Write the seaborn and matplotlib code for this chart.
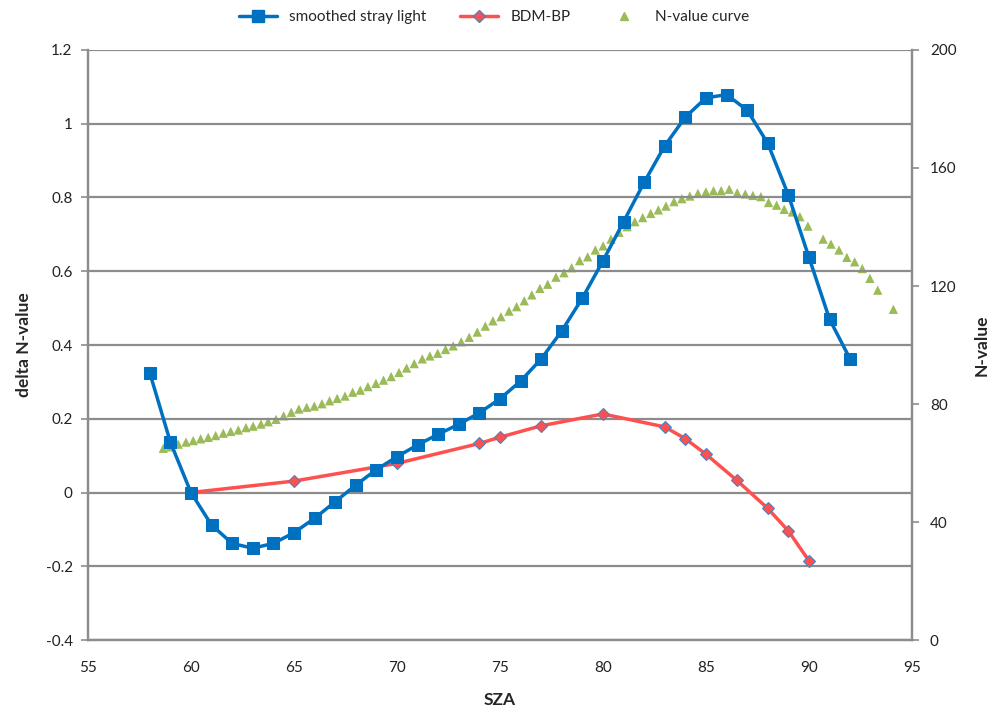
import numpy as np
import pandas as pd
import seaborn as sns
import matplotlib
matplotlib.use("Agg")
import matplotlib.pyplot as plt
from matplotlib.lines import Line2D

# smoothed stray light (left axis)
sza_stray = [58, 59, 60, 61, 62, 63, 64, 65, 66, 67, 68, 69, 70, 71, 72, 73, 74, 75,
             76, 77, 78, 79, 80, 81, 82, 83, 84, 85, 86, 87, 88, 89, 90, 91, 92]
stray = [0.325, 0.137, 0.0, -0.088, -0.138, -0.151, -0.138, -0.109, -0.07, -0.025,
         0.02, 0.062, 0.097, 0.129, 0.158, 0.185, 0.216, 0.254, 0.302, 0.362, 0.438,
         0.527, 0.628, 0.734, 0.841, 0.94, 1.018, 1.07, 1.079, 1.037, 0.947, 0.807,
         0.638, 0.47, 0.362]

# BDM-BP (left axis)
sza_bdm = [60, 65, 70, 74, 75, 77, 80, 83, 84, 85, 86.5, 88, 89, 90]
bdm = [0.0, 0.031, 0.079, 0.133, 0.15, 0.181, 0.213, 0.178, 0.146, 0.104, 0.033,
       -0.043, -0.104, -0.185]

# N-value curve (right axis)
sza_nval = [58.66, 59.01, 59.38, 59.76, 60.11, 60.47, 60.84, 61.2, 61.57, 61.93, 62.3,
            62.67, 63.02, 63.4, 63.75, 64.13, 64.5, 64.87, 65.24, 65.62, 65.99, 66.36,
            66.73, 67.1, 67.48, 67.85, 68.22, 68.59, 68.98, 69.35, 69.72, 70.1, 70.47,
            70.84, 71.23, 71.6, 71.98, 72.36, 72.73, 73.12, 73.51, 73.9, 74.29, 74.66,
            75.05, 75.44, 75.81, 76.18, 76.55, 76.94, 77.32, 77.72, 78.11, 78.48, 78.87,
            79.26, 79.63, 80.01, 80.39, 80.78, 81.17, 81.55, 81.93, 82.32, 82.69, 83.06,
            83.45, 83.83, 84.22, 84.61, 85.0, 85.37, 85.74, 86.13, 86.52, 86.91, 87.28,
            87.67, 88.04, 88.43, 88.8, 89.19, 89.56, 89.95, 90.69, 91.07, 91.46, 91.84,
            92.22, 92.59, 92.96, 93.34, 94.1]
nval = [65.0, 65.5, 66.4, 67.1, 67.6, 68.2, 68.7, 69.3, 70.1, 70.7, 71.2, 72.0, 72.5,
        73.2, 74.0, 74.8, 76.0, 77.2, 78.3, 78.9, 79.3, 80.1, 81.1, 81.9, 82.7, 84.0,
        84.7, 85.9, 87.0, 88.1, 89.3, 90.7, 92.2, 93.7, 95.3, 96.3, 97.2, 98.5, 99.7,
        101.1, 102.6, 104.4, 106.4, 108.2, 109.6, 111.5, 113.0, 115.0, 117.0, 119.2,
        120.6, 123.0, 124.5, 126.2, 128.6, 129.9, 132.2, 133.6, 135.9, 138.2, 140.1,
        141.8, 143.2, 144.6, 145.8, 147.1, 148.6, 149.6, 150.5, 151.4, 151.9, 152.3,
        152.3, 152.8, 151.6, 151.2, 150.7, 150.3, 148.3, 147.4, 146.0, 145.1, 143.5,
        140.3, 135.9, 134.2, 132.2, 129.7, 128.2, 125.9, 122.6, 118.6, 112.1]

sns.set_style("white")
plt.rcParams["font.family"] = ["Lato", "DejaVu Sans"]

blue = "#0070C0"
red = "#FF5050"
green = "#9BBB59"
grid_c = "#8C8C8C"

fig = plt.figure(figsize=(9.88, 7.11), dpi=100)
ax = fig.add_axes([0.089, 0.0998, 0.834, 0.8299])
ax2 = ax.twinx()

df_stray = pd.DataFrame({"SZA": sza_stray, "val": stray})
df_bdm = pd.DataFrame({"SZA": sza_bdm, "val": bdm})
df_nval = pd.DataFrame({"SZA": sza_nval, "val": nval})

sns.lineplot(data=df_stray, x="SZA", y="val", ax=ax, color=blue, linewidth=2.5,
             marker="s", markersize=9, markeredgecolor=blue, zorder=4)
sns.lineplot(data=df_bdm, x="SZA", y="val", ax=ax, color=red, linewidth=2.5,
             marker="D", markersize=6.5, markerfacecolor=red,
             markeredgecolor="#4F81BD", markeredgewidth=0.8, zorder=3)
sns.scatterplot(data=df_nval, x="SZA", y="val", ax=ax2, color=green, marker="^",
                s=45, edgecolor="none", zorder=2)

ax.set_zorder(ax2.get_zorder() + 1)
ax.patch.set_visible(False)

ax.set_xlim(55, 95)
ax.set_ylim(-0.4, 1.2)
ax2.set_ylim(0, 200)
ax.set_xticks(np.arange(55, 96, 5))
ax.set_yticks(np.arange(-0.4, 1.21, 0.2))
ax.set_yticklabels(["-0.4", "-0.2", "0", "0.2", "0.4", "0.6", "0.8", "1", "1.2"])
ax2.set_yticks(np.arange(0, 201, 40))

ax.grid(axis="y", color=grid_c, linewidth=1.6)
ax.grid(axis="x", visible=False)
ax2.grid(False)

for a in (ax, ax2):
    a.spines["top"].set_visible(False)
    for side in ("left", "right", "bottom"):
        a.spines[side].set_color(grid_c)
        a.spines[side].set_linewidth(1.6)
ax.tick_params(axis="both", direction="out", length=5, width=1.2, color=grid_c,
               labelsize=11, pad=6, labelcolor="#222222")
ax2.tick_params(axis="y", direction="out", length=5, width=1.2, color=grid_c,
                labelsize=11, pad=8, labelcolor="#222222")
ax.tick_params(axis="x", pad=10)

ax.set_xlabel("SZA", fontsize=12.5, fontweight="bold", labelpad=12)
ax.set_ylabel("delta N-value", fontsize=12.5, fontweight="bold", labelpad=10)
ax2.set_ylabel("N-value", fontsize=12.5, fontweight="bold", rotation=90, labelpad=12)

for a in (ax, ax2):
    if a.get_legend() is not None:
        a.get_legend().remove()

handles = [
    Line2D([], [], color=blue, linewidth=2.5, marker="s", markersize=8),
    Line2D([], [], color=red, linewidth=2.5, marker="D", markersize=6,
           markerfacecolor=red, markeredgecolor="#4F81BD"),
    Line2D([], [], color=green, linestyle="none", marker="^", markersize=6),
]
fig.legend(handles, ["smoothed stray light", "BDM-BP", "N-value curve"],
           loc="upper center", bbox_to_anchor=(0.5, 1.005), ncol=3, frameon=False,
           fontsize=11, handlelength=2.5, columnspacing=2.2)

fig.savefig("out.png", dpi=100)
